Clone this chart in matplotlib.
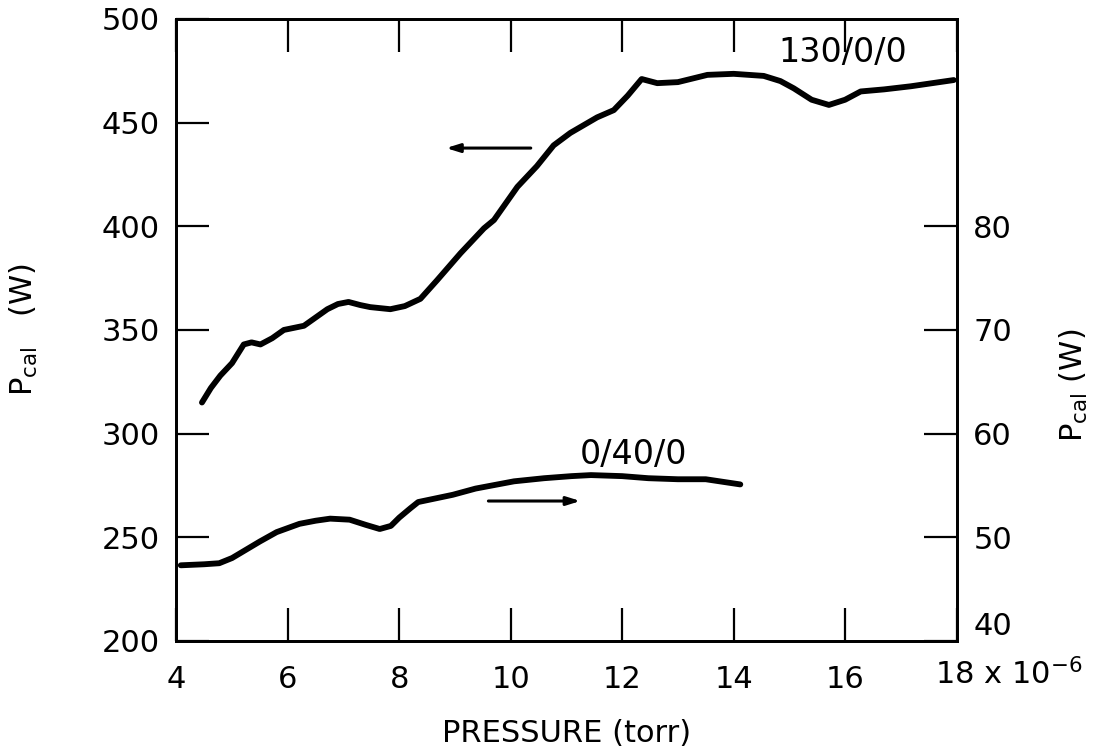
import matplotlib
matplotlib.use("Agg")
import matplotlib.pyplot as plt
from matplotlib.transforms import offset_copy

# upper curve, 130/0/0, left axis (W)
p_hi = [4.46, 4.62, 4.79, 5.00, 5.21, 5.35, 5.51, 5.72, 5.93, 6.29, 6.50, 6.71,
        6.90, 7.09, 7.30, 7.48, 7.84, 8.10, 8.38, 8.68, 9.10, 9.52, 9.70,
        10.12, 10.47, 10.77, 11.07, 11.55, 11.85, 12.10, 12.35, 12.63,
        13.00, 13.53, 14.00, 14.54, 14.84, 15.08, 15.40, 15.71, 16.00, 16.28,
        16.70, 17.18, 17.95]
w_hi = [315, 322, 328, 334, 343, 344, 343, 346, 350, 352, 356, 360,
        362.5, 363.5, 362, 361, 360, 361.5, 365, 374, 387, 399, 403,
        419, 429, 439, 445, 452.5, 456, 463, 471, 469,
        469.5, 473, 473.5, 472.5, 470, 466.5, 461, 458.5, 461, 465,
        466, 467.5, 470.5]

# lower curve, 0/40/0, read against left scale (right scale = left / 5)
p_lo = [4.08, 4.50, 4.77, 5.00, 5.25, 5.50, 5.80, 6.21, 6.50, 6.76, 7.11, 7.40,
        7.65, 7.85, 8.00, 8.20, 8.34, 8.96, 9.37, 10.06, 10.60, 11.09, 11.44,
        12.00, 12.47, 13.00, 13.50, 14.12]
w_lo = [236.5, 237, 237.5, 240, 244, 248, 252.5, 256.5, 258, 259, 258.5, 256,
        254, 255.5, 259.5, 264, 267, 270.5, 273.5, 277, 278.5, 279.5, 280,
        279.5, 278.5, 278, 278, 275.5]

xticks = [4, 6, 8, 10, 12, 14, 16, 18]
xlabels = ["4", "6", "8", "10", "12", "14", "16", ""]
yticks_l = [200, 250, 300, 350, 400, 450, 500]
yticks_r = [40, 50, 60, 70, 80]

plt.rcParams['font.family'] = ['DejaVu Sans']
plt.rcParams['mathtext.default'] = 'regular'
fig = plt.figure(figsize=(11.02, 7.55), dpi=100)
ax = fig.add_axes([0.160, 0.151, 0.708, 0.824])

ax.plot(p_hi, w_hi, color='black', lw=4.2, solid_capstyle='round', solid_joinstyle='round')
ax.plot(p_lo, w_lo, color='black', lw=4.2, solid_capstyle='round', solid_joinstyle='round')

ax.set_xlim(4, 18)
ax.set_ylim(200, 500)
ax.set_xticks(xticks)
ax.set_xticklabels(xlabels)
ax.set_yticks(yticks_l)
ax.tick_params(axis='both', direction='in', length=24, width=1.6, labelsize=22, pad=12)
ax.tick_params(axis='x', top=True, pad=17)
for s in ax.spines.values():
    s.set_linewidth(2.0)

ax2 = ax.twinx()
ax2.set_ylim(40, 100)
ax2.set_yticks(yticks_r)
ax2.tick_params(axis='y', direction='in', length=24, width=1.6, labelsize=22, pad=12)
for s in ax2.spines.values():
    s.set_linewidth(2.0)
# lift the 40 label off the corner
for lab in ax2.get_yticklabels():
    if lab.get_text() == "40":
        lab.set_va('bottom')

ax.text(17.62, 200, r"18 x 10$^{-6}$", fontsize=22, ha='left', va='top',
        transform=offset_copy(ax.transData, fig=fig, x=0, y=-12, units='points'))

ax.set_xlabel("PRESSURE (torr)", fontsize=22, labelpad=18)
ax.set_ylabel(r"P$_{cal}$   (W)", fontsize=22)
ax.yaxis.set_label_coords(-0.175, 0.5)
fig.text(0.975, 0.49, r"P$_{cal}$ (W)", fontsize=22, rotation=90, ha='center', va='center')

ax.text(15.95, 484, "130/0/0", fontsize=24, ha='center', va='center')
ax.text(12.2, 290, "0/40/0", fontsize=24, ha='center', va='center')

ax.annotate("", xy=(8.79, 437.7), xytext=(10.41, 437.7),
            arrowprops=dict(arrowstyle='-|>,head_length=0.8,head_width=0.25', color='black', lw=2.2))
ax.annotate("", xy=(11.30, 267.5), xytext=(9.55, 267.5),
            arrowprops=dict(arrowstyle='-|>,head_length=0.8,head_width=0.25', color='black', lw=2.2))

fig.savefig("out.png", dpi=100)
